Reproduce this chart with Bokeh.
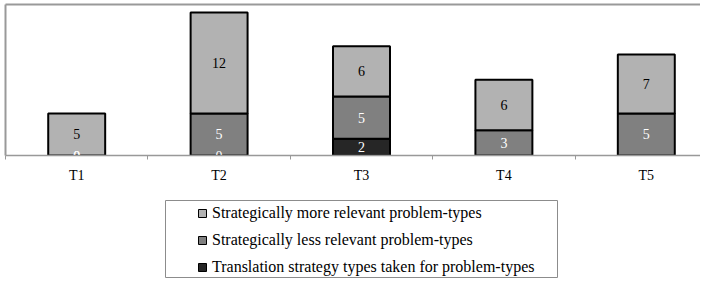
import numpy as np
from bokeh.plotting import figure
from bokeh.models import (Range1d, LinearAxis, FixedTicker, Legend, LegendItem)
from bokeh.core.properties import value
from bokeh.embed import file_html
from bokeh.resources import INLINE

# ---- data ----
categories = ["T1", "T2", "T3", "T4", "T5"]
more_relevant = [5, 12, 6, 6, 7]          # light grey (top)
less_relevant = [0, 5, 5, 3, 5]           # mid grey (middle)
translation_types = [0, 0, 2, None, None]  # dark (bottom)
legend_labels = ["Strategically more relevant problem-types",
                 "Strategically less relevant problem-types",
                 "Translation strategy types taken for problem-types"]

FONT = "Liberation Serif"
LIGHT, MID, DARK = "#b2b2b2", "#808080", "#262626"
FRAME_GREY = "#999999"

x = np.arange(len(categories)) + 0.5
dark = np.array([np.nan if v is None else v for v in translation_types], float)
mid = np.array(less_relevant, float)
light = np.array(more_relevant, float)

dark_b = np.zeros(len(x))
dark_t = dark_b + np.nan_to_num(dark)
mid_b = dark_t
mid_t = mid_b + np.nan_to_num(mid)
light_b = mid_t
light_t = light_b + light

W = 700
CAT_PX = 142.4
LEFT, TOP = 5, 4
FRAME_H = 151
H1 = 190
FRAME_W = W - LEFT

p = figure(width=W, height=H1, output_backend="svg", toolbar_location=None,
           x_axis_location=None, y_axis_location=None,
           x_range=Range1d(0, FRAME_W / CAT_PX), y_range=Range1d(0, FRAME_H / 8.412),
           min_border_left=LEFT, min_border_right=0, min_border_top=TOP,
           min_border_bottom=H1 - TOP - FRAME_H)
p.outline_line_color = None
p.grid.visible = False
p.background_fill_color = "white"
p.border_fill_color = "white"

def plain_axis():
    return LinearAxis(ticker=FixedTicker(ticks=[]), axis_line_color=FRAME_GREY,
                      axis_line_width=2, major_tick_line_color=None,
                      minor_tick_line_color=None, major_tick_out=0, major_tick_in=0,
                      minor_tick_out=0, minor_tick_in=0, major_label_standoff=0,
                      major_label_text_font_size="0px")

p.add_layout(plain_axis(), "left")
p.add_layout(plain_axis(), "above")

xaxis = LinearAxis(ticker=FixedTicker(ticks=list(x), minor_ticks=list(range(len(x) + 1))),
                   major_label_overrides={float(xi): c for xi, c in zip(x, categories)},
                   major_tick_out=0, major_tick_in=0, minor_tick_out=4, minor_tick_in=0,
                   axis_line_color=FRAME_GREY, axis_line_width=1.5,
                   minor_tick_line_color=FRAME_GREY, minor_tick_line_width=1,
                   major_tick_line_color=None,
                   major_label_text_font=FONT, major_label_text_font_size="14px",
                   major_label_text_color="black", major_label_standoff=8)
p.add_layout(xaxis, "below")

# ---- bars ----
BAR_W = 0.4
mask = ~np.isnan(dark)
p.vbar(x=x[mask], bottom=dark_b[mask], top=dark_t[mask], width=BAR_W,
       fill_color=DARK, line_color="black", line_width=2)
p.vbar(x=x, bottom=mid_b, top=mid_t, width=BAR_W,
       fill_color=MID, line_color="black", line_width=2)
p.vbar(x=x, bottom=light_b, top=light_t, width=BAR_W,
       fill_color=LIGHT, line_color="black", line_width=2)

# ---- value labels ----
lx, ly, lt, lc = [], [], [], []
for vals, b, t, col in [(dark, dark_b, dark_t, "white"), (mid, mid_b, mid_t, "white"),
                        (light, light_b, light_t, "black")]:
    for i in range(len(x)):
        if np.isnan(vals[i]):
            continue
        lx.append(x[i]); ly.append((b[i] + t[i]) / 2)
        lt.append(str(int(vals[i]))); lc.append(col)
p.text(x=lx, y=ly, text=lt, text_color=lc, text_font=value(FONT),
       text_font_size="14px", text_align="center", text_baseline="middle")

# ---- legend figure: its frame outline is the legend box ----
H2 = 88
BOX_L, BOX_R = 165, 557
BOX_TOP, BOX_BOTTOM = 10, 87   # within the legend figure
lf = figure(width=W, height=H2, output_backend="svg", toolbar_location=None,
            x_axis_location=None, y_axis_location=None,
            min_border_left=BOX_L, min_border_right=W - BOX_R,
            min_border_top=BOX_TOP, min_border_bottom=H2 - BOX_BOTTOM,
            x_range=Range1d(0, 1), y_range=Range1d(0, 1))
lf.outline_line_color = "#8c8c8c"
lf.outline_line_width = 1
lf.grid.visible = False

leg_r = []
for col, vals in [(LIGHT, light), (MID, mid), (DARK, np.nan_to_num(dark))]:
    r = lf.scatter(x=x, y=vals, marker="square", size=8, fill_color=col,
                   line_color="black", line_width=1)
    r.visible = False
    leg_r.append(r)

legend = Legend(items=[LegendItem(label=lab, renderers=[r]) for lab, r in zip(legend_labels, leg_r)],
                location=(27, 0), orientation="vertical",
                padding=0, spacing=7, glyph_width=20, glyph_height=20,
                label_standoff=0, label_height=20,
                label_text_font=FONT, label_text_font_size="16px", label_text_color="black",
                border_line_color=None, background_fill_alpha=0.0,
                inactive_fill_alpha=0.0, margin=0)
lf.add_layout(legend)

# two independent roots, stacked on the page (no frame alignment between them)
open("out.html", "w").write(file_html([p, lf], INLINE))
